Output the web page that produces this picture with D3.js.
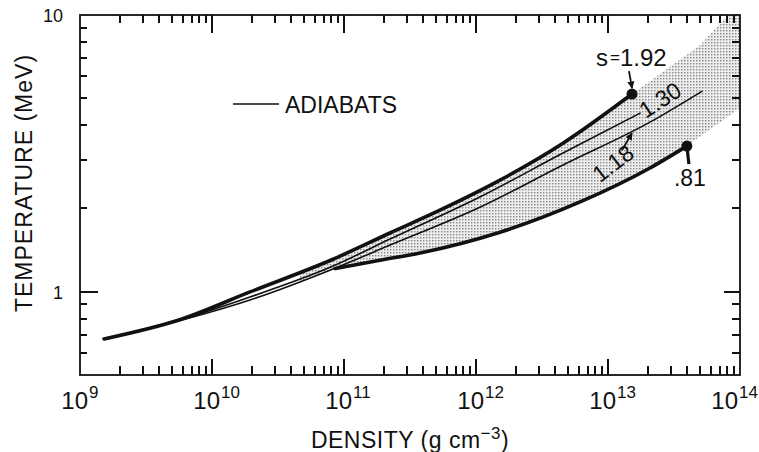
<!DOCTYPE html>
<html><head><meta charset="utf-8">
<script src="https://cdn.jsdelivr.net/npm/d3@7"></script>
<style>
body{margin:0;background:#fff}
text{font-family:"Liberation Sans",Arial,sans-serif;fill:#111}
</style>
</head><body>
<svg id="c" width="759" height="452"></svg>
<script>
// ---- data ----
const densityDomain = [1e9, 1e14];
const tempDomain = [0.5, 10];
const xTickExponents = [9, 10, 11, 12, 13, 14];
const yTickExponents = [-1, 0, 1];
const tickMultiples = [1, 2, 3, 4, 5, 6, 7, 8, 9];
const yTickLabels = [{v: 1, t: "1"}, {v: 10, t: "10"}];

const s192Rho = [1.52e9, 5.93e9, 1.94e10, 8.26e10, 2.23e11, 5.33e11, 1.52e12, 4.56e12, 1.52e13];
const s192T   = [0.675, 0.797, 0.998, 1.31, 1.63, 1.97, 2.53, 3.44, 5.18];
const s130Rho = [1.52e9, 5.93e9, 1.94e10, 8.26e10, 2.23e11, 1.07e12, 4.56e12, 1.75e13];
const s130T   = [0.675, 0.795, 0.957, 1.238, 1.55, 2.20, 3.17, 4.42];
const s118Rho = [1.52e9, 5.93e9, 1.94e10, 8.26e10, 2.23e11, 1.07e12, 4.56e12, 2.08e13, 5.15e13];
const s118T   = [0.675, 0.79, 0.933, 1.208, 1.474, 2.02, 2.87, 4.10, 5.30];
const s081Rho = [8.6e10, 1.87e11, 3.77e11, 1.52e12, 6.14e12, 2.08e13, 3.96e13];
const s081T   = [1.212, 1.30, 1.38, 1.64, 2.11, 2.80, 3.36];

const shadeRho = [4.64e10, 8.26e10, 2.23e11, 5.33e11, 1.52e12, 4.56e12, 1.52e13, 4.98e13, 8.11e13, 1e14, 1e14,
                  3.96e13, 2.08e13, 6.14e12, 1.52e12, 3.77e11, 1.87e11, 8.6e10, 4.64e10];
const shadeT   = [1.177, 1.31, 1.63, 1.97, 2.53, 3.44, 5.18, 7.77, 10, 10, 4.61,
                  3.36, 2.80, 2.11, 1.64, 1.38, 1.30, 1.212, 1.09];

const zip = (a, b) => a.map((v, i) => ({rho: v, T: b[i]}));

// ---- layout ----
const L = 80, R = 740, T0 = 15, B = 375;
const svg = d3.select("#c");
const x = d3.scaleLog().domain(densityDomain).range([L, R]);
const y = d3.scaleLog().domain(tempDomain).range([B, T0]);

const defs = svg.append("defs");
const pat = defs.append("pattern").attr("id", "stip").attr("patternUnits", "userSpaceOnUse")
  .attr("width", 3).attr("height", 3);
pat.append("rect").attr("width", 3).attr("height", 3).attr("fill", "#ededed");
pat.append("rect").attr("width", 1.4).attr("height", 1.4).attr("fill", "#858585");
defs.append("clipPath").attr("id", "plotclip").append("rect")
  .attr("x", L).attr("y", T0).attr("width", R - L).attr("height", B - T0);
defs.append("marker").attr("id", "arr").attr("viewBox", "0 0 10 10").attr("refX", 9).attr("refY", 5)
  .attr("markerWidth", 4).attr("markerHeight", 4).attr("orient", "auto")
  .append("path").attr("d", "M0,0L10,5L0,10z").attr("fill", "#111");

// shaded band
const plot = svg.append("g").attr("clip-path", "url(#plotclip)");
plot.append("path")
  .attr("d", d3.line().x(d => x(d.rho)).y(d => y(d.T)).curve(d3.curveLinearClosed)(zip(shadeRho, shadeT)))
  .attr("fill", "url(#stip)").attr("stroke", "none");

// curves
const line = d3.line().x(d => x(d.rho)).y(d => y(d.T)).curve(d3.curveMonotoneX);
const curves = [
  {d: zip(s118Rho, s118T), w: 1.6},
  {d: zip(s130Rho, s130T), w: 1.6},
  {d: zip(s081Rho, s081T), w: 3.6},
  {d: zip(s192Rho, s192T), w: 3.6}
];
plot.selectAll("path.curve").data(curves).join("path").attr("class", "curve")
  .attr("d", c => line(c.d)).attr("fill", "none").attr("stroke", "#111")
  .attr("stroke-width", c => c.w).attr("stroke-linecap", "round");

// frame and ticks
svg.append("rect").attr("x", L).attr("y", T0).attr("width", R - L).attr("height", B - T0)
  .attr("fill", "none").attr("stroke", "#111").attr("stroke-width", 1.8);
const mkTicks = (exps, dom) => {
  const out = [];
  exps.forEach(e => tickMultiples.forEach(m => {
    const v = m * Math.pow(10, e);
    if (v > dom[0] * 1.0001 && v < dom[1] / 1.0001) out.push({v: v, major: m === 1});
  }));
  return out;
};
const xt = mkTicks(xTickExponents, densityDomain);
const yt = mkTicks(yTickExponents, tempDomain);
const tk = svg.append("g");
const tline = (cls, data) => tk.selectAll("line." + cls).data(data).join("line").attr("class", cls)
  .attr("stroke", "#111").attr("stroke-width", 2);
const px = d => Math.round(x(d.v)), py = d => Math.round(y(d.v));
tline("xb", xt).attr("x1", px).attr("x2", px).attr("y1", B).attr("y2", d => B - (d.major ? 16 : 9));
tline("xt", xt).attr("x1", px).attr("x2", px).attr("y1", T0).attr("y2", d => T0 + (d.major ? 18 : 8));
tline("yl", yt).attr("y1", py).attr("y2", py).attr("x1", L).attr("x2", d => L + (d.major ? 18 : 7));
tline("yr", yt).attr("y1", py).attr("y2", py).attr("x1", R).attr("x2", d => R - (d.major ? 16 : 8));

// x tick labels 10^n
const xl = svg.append("g");
xTickExponents.forEach(e => {
  const p = x(Math.pow(10, e));
  const off = Math.min(8, 757 - p - 19);
  xl.append("text").attr("x", p + off).attr("y", 409).attr("text-anchor", "end")
    .attr("font-size", 24).text("10");
  xl.append("text").attr("x", p + off + 1).attr("y", 398).attr("font-size", 17).text(e);
});
// y tick labels
svg.selectAll("text.ylab").data(yTickLabels).join("text").attr("class", "ylab")
  .attr("x", 63).attr("y", d => y(d.v) + 7).attr("text-anchor", "end")
  .attr("font-size", 18).text(d => d.t);

// axis titles
svg.append("text").attr("transform", "translate(32,183) rotate(-90)").attr("text-anchor", "middle")
  .attr("font-size", 23).attr("letter-spacing", 1).text("TEMPERATURE (MeV)");
const xtitle = svg.append("text").attr("x", 410).attr("y", 448).attr("text-anchor", "middle")
  .attr("font-size", 23).attr("letter-spacing", 0.5);
xtitle.append("tspan").text("DENSITY (g cm");
xtitle.append("tspan").attr("font-size", 17).attr("dy", -9).text("−3");
xtitle.append("tspan").attr("dy", 9).text(")");

// legend
svg.append("line").attr("x1", 233).attr("x2", 279).attr("y1", 104).attr("y2", 104)
  .attr("stroke", "#111").attr("stroke-width", 1.5);
svg.append("text").attr("x", 285).attr("y", 113).attr("font-size", 23).text("ADIABATS");

// annotations
const last = (r, t) => ({x: x(r[r.length - 1]), y: y(t[t.length - 1])});
const end192 = last(s192Rho, s192T), end081 = last(s081Rho, s081T);
const end130 = last(s130Rho, s130T), end118 = last(s118Rho, s118T);

svg.append("circle").attr("cx", end192.x).attr("cy", end192.y).attr("r", 5.5).attr("fill", "#111");
svg.append("circle").attr("cx", end081.x).attr("cy", end081.y).attr("r", 5.5).attr("fill", "#111");

const sl = svg.append("text").attr("x", end192.x - 36).attr("y", end192.y - 28).attr("font-size", 24);
sl.append("tspan").text("s");
sl.append("tspan").attr("font-size", 17).attr("dx", 2).attr("dy", -3).text("=");
sl.append("tspan").attr("dy", 3).text("1.92");
svg.append("line").attr("x1", end192.x - 3).attr("y1", end192.y - 23).attr("x2", end192.x).attr("y2", end192.y - 6)
  .attr("stroke", "#111").attr("stroke-width", 1.8).attr("marker-end", "url(#arr)");

svg.append("text").attr("transform", `translate(${end130.x + 20},${end130.y - 13}) rotate(-33)`)
  .attr("text-anchor", "middle").attr("dy", 8).attr("font-size", 23).text("1.30");

svg.append("text").attr("transform", `translate(${end118.x - 89},${end118.y + 72}) rotate(-37)`)
  .attr("text-anchor", "middle").attr("dy", 8).attr("font-size", 23).text("1.18");
svg.append("line").attr("x1", end118.x - 80).attr("y1", end118.y + 59).attr("x2", end118.x - 70).attr("y2", end118.y + 42)
  .attr("stroke", "#111").attr("stroke-width", 1.8).attr("marker-end", "url(#arr)");

svg.append("line").attr("x1", end081.x).attr("y1", end081.y).attr("x2", end081.x + 2).attr("y2", end081.y + 18)
  .attr("stroke", "#111").attr("stroke-width", 3.2);
svg.append("text").attr("x", end081.x - 13).attr("y", end081.y + 40).attr("font-size", 23).text(".81");
</script>
</body></html>
